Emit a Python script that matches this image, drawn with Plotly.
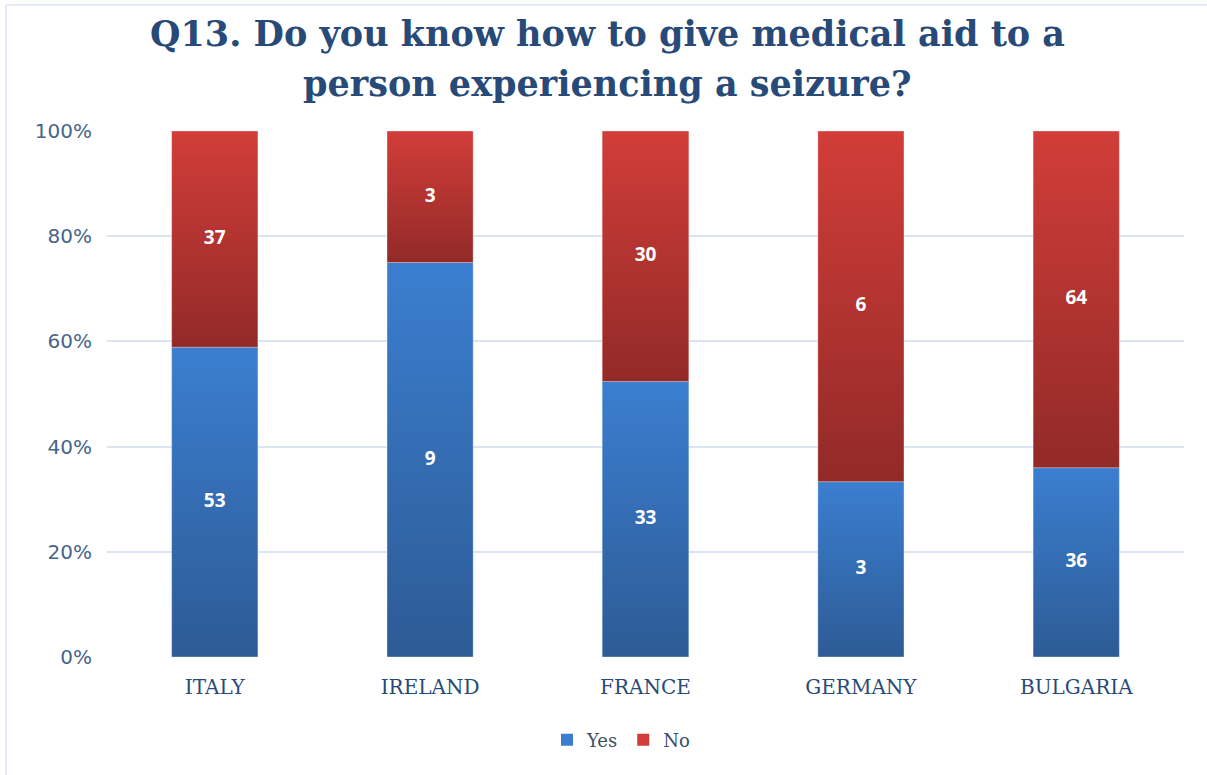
import plotly.graph_objects as go

# Survey answers per country (raw counts)
countries = ["ITALY", "IRELAND", "FRANCE", "GERMANY", "BULGARIA"]
yes_counts = [53, 9, 33, 3, 36]
no_counts = [37, 3, 30, 6, 64]
y_tick_values = [0, 20, 40, 60, 80, 100]
y_tick_labels = [f"{v}%" for v in y_tick_values]
title_lines = ["Q13. Do you know how to give medical aid to a",
               "person experiencing a seizure?"]

# Layout geometry (pixels)
W, H = 1207, 775
ML, MR, MT, MB = 107, 23, 131, 118
PW, PH = W - ML - MR, H - MT - MB
BAR_W = 0.4

BLUE_DARK, BLUE_LIGHT = "#2d5b95", "#3b7ed0"
RED_DARK, RED_LIGHT = "#922a28", "#d23d39"
TITLE_COLOR = "#284a78"
AXIS_TEXT = "#46648c"
GRID = "#dbe4f1"

xs = list(range(len(countries)))
totals = [y + n for y, n in zip(yes_counts, no_counts)]
yes_pct = [100.0 * y / t for y, t in zip(yes_counts, totals)]

fig = go.Figure()

# Base stacked bars, normalised to 100%
fig.add_trace(go.Bar(x=xs, y=yes_counts, name="Yes", width=BAR_W,
                     marker=dict(color=BLUE_LIGHT, line=dict(width=0)),
                     hovertemplate="%{y}<extra>Yes</extra>"))
fig.add_trace(go.Bar(x=xs, y=no_counts, name="No", width=BAR_W,
                     marker=dict(color=RED_LIGHT, line=dict(width=0)),
                     hovertemplate="%{y}<extra>No</extra>"))


def gradient_segment(xc, y0, y1, dark, light):
    """Vertical-gradient rectangle over one stacked segment."""
    x0, x1 = xc - BAR_W / 2, xc + BAR_W / 2
    return go.Scatter(
        x=[x0, x1, x1, x0, x0], y=[y0, y0, y1, y1, y0],
        mode="lines", fill="toself",
        line=dict(width=1, color="rgba(255,255,255,0.35)"),
        fillgradient=dict(type="vertical", start=y0, stop=y1,
                          colorscale=[[0, dark], [1, light]]),
        hoverinfo="skip", showlegend=False)


for xc, p in zip(xs, yes_pct):
    fig.add_trace(gradient_segment(xc, 0, p, BLUE_DARK, BLUE_LIGHT))
    fig.add_trace(gradient_segment(xc, p, 100, RED_DARK, RED_LIGHT))

# Count labels centred in each segment
label_x = xs + xs
label_y = [p / 2 for p in yes_pct] + [(p + 100) / 2 for p in yes_pct]
label_txt = [str(v) for v in yes_counts + no_counts]
fig.add_trace(go.Scatter(
    x=label_x, y=label_y, text=label_txt, mode="text",
    textfont=dict(family="Open Sans", size=19, color="white", weight="bold"),
    hoverinfo="skip", showlegend=False))


def px_to_paper_x(px):
    return (px - ML) / PW


def px_to_paper_y(py):
    return (H - MB - py) / PH


# Light frame along the top and left edges of the chart
frame = dict(type="line", xref="paper", yref="paper",
             line=dict(color="#e4ebf6", width=2), layer="below")
fig.add_shape(**frame, x0=px_to_paper_x(6), x1=px_to_paper_x(W + 5),
              y0=px_to_paper_y(5), y1=px_to_paper_y(5))
fig.add_shape(**frame, x0=px_to_paper_x(6), x1=px_to_paper_x(6),
              y0=px_to_paper_y(5), y1=px_to_paper_y(H + 5))

# Two-line chart title, one annotation per line
for line_text, cy in zip(title_lines, [33, 83]):
    fig.add_annotation(
        text=line_text, xref="paper", yref="paper",
        x=px_to_paper_x(607), xanchor="center",
        y=px_to_paper_y(cy), yanchor="middle",
        showarrow=False,
        font=dict(family="DejaVu Serif", size=35, color=TITLE_COLOR, weight="bold"))

fig.update_layout(
    width=W, height=H,
    margin=dict(l=ML, r=MR, t=MT, b=MB),
    paper_bgcolor="white", plot_bgcolor="white",
    barmode="stack", barnorm="percent",
    xaxis=dict(range=[-0.5, len(countries) - 0.5], tickvals=xs, ticktext=countries,
               showgrid=False, zeroline=False, showline=False, ticks="",
               ticklabelstandoff=16,
               tickfont=dict(family="DejaVu Serif", size=20, color=TITLE_COLOR)),
    yaxis=dict(range=[0, 100], tickvals=y_tick_values, ticktext=y_tick_labels,
               showgrid=True, gridcolor=GRID, gridwidth=1.5,
               zeroline=False, showline=False, ticks="",
               ticklabelstandoff=14,
               tickfont=dict(family="DejaVu Sans", size=20, color=AXIS_TEXT)),
    legend=dict(orientation="h", traceorder="normal",
                x=px_to_paper_x(621), xanchor="center",
                y=px_to_paper_y(740), yanchor="middle",
                font=dict(family="DejaVu Serif", size=18, color="#3d4f66"),
                itemwidth=30, tracegroupgap=0),
    showlegend=True,
)

fig.write_html("out.html")
